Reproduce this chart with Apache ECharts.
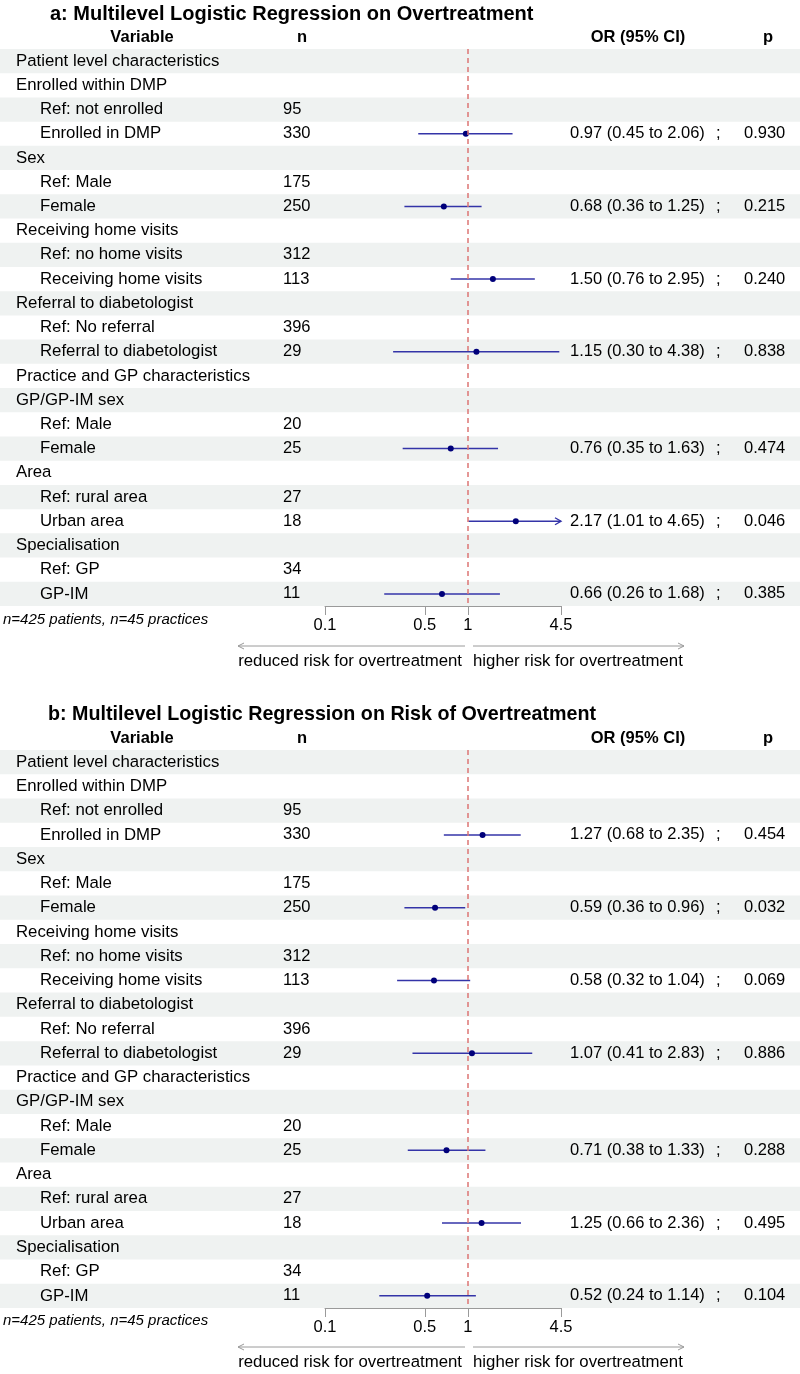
<!DOCTYPE html>
<html>
<head>
<meta charset="utf-8">
<script src="https://cdn.jsdelivr.net/npm/echarts@6/dist/echarts.min.js"></script>
<style>html,body{margin:0;padding:0;background:#fff}#c{width:800px;height:1374px}</style>
</head>
<body>
<div id="c"></div>
<script>
// ---------- data ----------
const rowLabels = ['Patient level characteristics','Enrolled within DMP','Ref: not enrolled','Enrolled in DMP','Sex','Ref: Male','Female','Receiving home visits','Ref: no home visits','Receiving home visits','Referral to diabetologist','Ref: No referral','Referral to diabetologist','Practice and GP characteristics','GP/GP-IM sex','Ref: Male','Female','Area','Ref: rural area','Urban area','Specialisation','Ref: GP','GP-IM'];
const rowLevel = [0,0,1,1,0,1,1,0,1,1,0,1,1,0,0,1,1,0,1,1,0,1,1];
const nValues = ['','','95','330','','175','250','','312','113','','396','29','','','20','25','','27','18','','34','11'];
const estRow = [3,6,9,12,16,19,22];

const titleA = 'a: Multilevel Logistic Regression on Overtreatment';
const aOR = [0.97,0.68,1.50,1.15,0.76,2.17,0.66];
const aLo = [0.45,0.36,0.76,0.30,0.35,1.01,0.26];
const aHi = [2.06,1.25,2.95,4.38,1.63,4.65,1.68];
const aP  = ['0.930','0.215','0.240','0.838','0.474','0.046','0.385'];

const titleB = 'b: Multilevel Logistic Regression on Risk of Overtreatment';
const bOR = [1.27,0.59,0.58,1.07,0.71,1.25,0.52];
const bLo = [0.68,0.36,0.32,0.41,0.38,0.66,0.24];
const bHi = [2.35,0.96,1.04,2.83,1.33,2.36,1.14];
const bP  = ['0.454','0.032','0.069','0.886','0.288','0.495','0.104'];

const tickValues = [0.1, 0.5, 1, 4.5];
const tickLabels = ['0.1','0.5','1','4.5'];
const headers = ['Variable','n','OR (95% CI)','p'];
const footnote = 'n=425 patients, n=45 practices';
const arrowLabels = ['reduced risk for overtreatment','higher risk for overtreatment'];
const refValue = 1;

// ---------- layout / style ----------
const FF = '"Liberation Sans", Arial, Helvetica, sans-serif';
const xMin = Math.log10(tickValues[0]);
const xMax = Math.log10(tickValues[tickValues.length-1]);
const panels = [
  {title: titleA, tSize: 20, tLeft: 45, or: aOR, lo: aLo, hi: aHi, p: aP, top: 49, height: 557, off: 0},
  {title: titleB, tSize: 19.7, tLeft: 43, or: bOR, lo: bLo, hi: bHi, p: bP, top: 750, height: 558, off: 701}
];

const chart = echarts.init(document.getElementById('c'), null, {renderer: 'canvas'});

function txt(x, y, text, opts) {
  opts = opts || {};
  return {
    type: 'text', x: x, y: y, silent: true,
    style: {
      text: text, fill: '#000',
      font: (opts.style || '') + ' ' + (opts.size || 16.5) + 'px ' + FF,
      align: opts.align || 'left', verticalAlign: 'middle'
    }
  };
}

const grids = [], xAxes = [], yAxes = [], series = [], graphics = [], titles = [];

panels.forEach((P, k) => {
  grids.push({left: 325, width: 236, top: P.top, height: P.height, containLabel: false});
  xAxes.push({
    type: 'value', gridIndex: k, min: xMin, max: xMax, position: 'bottom',
    axisLine: {show: true, lineStyle: {color: '#9a9a9a', width: 1}},
    axisTick: {show: true, customValues: tickValues.map(Math.log10), length: 9, inside: false, lineStyle: {color: '#9a9a9a', width: 1}},
    axisLabel: {
      show: true, customValues: tickValues.map(Math.log10), margin: 11,
      fontSize: 16.5, fontFamily: FF, color: '#000',
      formatter: function (v) {
        let best = 0, d = Infinity;
        tickValues.forEach((t, j) => { const dd = Math.abs(Math.log10(t) - v); if (dd < d) { d = dd; best = j; } });
        return tickLabels[best];
      }
    },
    splitLine: {show: false}
  });
  yAxes.push({
    type: 'category', gridIndex: k, inverse: true, show: false,
    data: rowLabels.map((_, i) => String(i)), boundaryGap: true
  });

  // table rows (shading + text)
  series.push({
    type: 'custom', xAxisIndex: k, yAxisIndex: k, z: 1, silent: true, clip: false,
    data: rowLabels.map((_, i) => [xMin, i]),
    encode: {x: 0, y: 1},
    renderItem: function (params, api) {
      const i = params.dataIndex;
      const c = api.coord([xMin, i]);
      const h = api.size([0, 1])[1];
      const y = c[1];
      const children = [];
      if (i % 2 === 0) {
        children.push({type: 'rect', shape: {x: 0, y: y - h / 2, width: api.getWidth(), height: h}, style: {fill: '#eff2f1'}});
      }
      children.push(txt(rowLevel[i] ? 40 : 16, y, rowLabels[i], {size: 16.8}));
      if (nValues[i]) children.push(txt(283, y, nValues[i]));
      const e = estRow.indexOf(i);
      if (e >= 0) {
        const s = P.or[e].toFixed(2) + ' (' + P.lo[e].toFixed(2) + ' to ' + P.hi[e].toFixed(2) + ')';
        children.push(txt(570, y, s));
        children.push(txt(716, y, ';'));
        children.push(txt(744, y, P.p[e]));
      }
      return {type: 'group', children: children};
    }
  });

  // confidence intervals
  series.push({
    type: 'custom', xAxisIndex: k, yAxisIndex: k, z: 3, silent: true, clip: false,
    data: estRow.map((r, e) => [Math.log10(P.lo[e]), Math.log10(P.hi[e]), Math.log10(P.or[e]), r]),
    encode: {x: [0, 1, 2], y: 3},
    renderItem: function (params, api) {
      const lo = api.value(0), hi = api.value(1), or = api.value(2), r = api.value(3);
      const p1 = api.coord([Math.max(lo, xMin), r]);
      const p2 = api.coord([Math.min(hi, xMax), r]);
      const pc = api.coord([or, r]);
      const col = '#3434a8';
      const ch = [
        {type: 'line', shape: {x1: p1[0], y1: p1[1], x2: p2[0], y2: p2[1]}, style: {stroke: col, lineWidth: 1.5}},
        {type: 'circle', shape: {cx: pc[0], cy: pc[1], r: 3}, style: {fill: '#00007a'}}
      ];
      if (hi > xMax) {
        ch.push({type: 'polyline', shape: {points: [[p2[0] - 6, p2[1] - 3.5], [p2[0], p2[1]], [p2[0] - 6, p2[1] + 3.5]]}, style: {stroke: col, lineWidth: 1.4, fill: null}});
      }
      if (lo < xMin) {
        ch.push({type: 'polyline', shape: {points: [[p1[0] + 6, p1[1] - 3.5], [p1[0], p1[1]], [p1[0] + 6, p1[1] + 3.5]]}, style: {stroke: col, lineWidth: 1.4, fill: null}});
      }
      return {type: 'group', children: ch};
    }
  });

  // reference line at OR = 1
  series.push({
    type: 'line', xAxisIndex: k, yAxisIndex: k, z: 5, data: [], silent: true,
    markLine: {
      silent: true, symbol: ['none', 'none'], label: {show: false},
      lineStyle: {color: '#dd7674', type: [5, 4], width: 1.5},
      data: [{xAxis: Math.log10(refValue)}]
    }
  });

  titles.push({
    text: P.title, left: P.tLeft, top: -1 + P.off,
    textStyle: {fontSize: P.tSize, fontWeight: 'bold', fontFamily: FF, color: '#000'}
  });

  const o = P.off;
  graphics.push(txt(142, 37 + o, headers[0], {style: 'bold', align: 'center'}));
  graphics.push(txt(302, 37 + o, headers[1], {style: 'bold', align: 'center'}));
  graphics.push(txt(638, 37 + o, headers[2], {style: 'bold', align: 'center'}));
  graphics.push(txt(768, 37 + o, headers[3], {style: 'bold', align: 'center'}));
  graphics.push(txt(3, 620 + o, footnote, {style: 'italic', size: 15}));

  const ay = 646 + o;
  graphics.push({type: 'polyline', silent: true, shape: {points: [[465, ay], [238, ay]]}, style: {stroke: '#9a9a9a', lineWidth: 1, fill: null}});
  graphics.push({type: 'polyline', silent: true, shape: {points: [[244, ay - 3], [238, ay], [244, ay + 3]]}, style: {stroke: '#9a9a9a', lineWidth: 1, fill: null}});
  graphics.push({type: 'polyline', silent: true, shape: {points: [[473, ay], [684, ay]]}, style: {stroke: '#9a9a9a', lineWidth: 1, fill: null}});
  graphics.push({type: 'polyline', silent: true, shape: {points: [[678, ay - 3], [684, ay], [678, ay + 3]]}, style: {stroke: '#9a9a9a', lineWidth: 1, fill: null}});
  graphics.push(txt(462, 661 + o, arrowLabels[0], {align: 'right', size: 16.8}));
  graphics.push(txt(473, 661 + o, arrowLabels[1], {size: 16.8}));
});

chart.setOption({
  animation: false,
  backgroundColor: '#fff',
  title: titles,
  grid: grids,
  xAxis: xAxes,
  yAxis: yAxes,
  series: series,
  graphic: graphics
});
</script>
</body>
</html>
